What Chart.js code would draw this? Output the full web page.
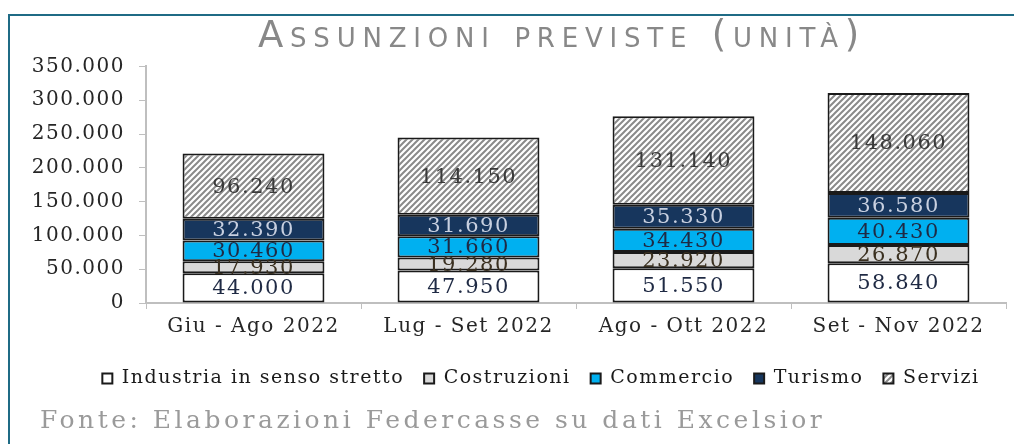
<!DOCTYPE html>
<html>
<head>
<meta charset="utf-8">
<script src="https://cdn.jsdelivr.net/npm/chart.js@4"></script>
<style>
  body { margin: 0; background: #fff; }
  #wrap { position: relative; width: 1014px; height: 444px; }
  #frame { position: absolute; left: 8px; top: 14px; width: 1006px; height: 430px;
           border-top: 2px solid #1f6b85; border-left: 2px solid #1f6b85; box-sizing: border-box; }
  canvas { position: absolute; left: 0; top: 0; }
</style>
</head>
<body>
<div id="wrap">
  <div id="frame"></div>
  <canvas id="assunzioni" width="1014" height="444"></canvas>
</div>
<script>
// valori (unità)
var categories = ['Giu - Ago 2022', 'Lug - Set 2022', 'Ago - Ott 2022', 'Set - Nov 2022'];
var industria = [44000, 47950, 51550, 58840];
var costruzioni = [17930, 19280, 23920, 26870];
var commercio = [30460, 31660, 34430, 40430];
var turismo = [32390, 31690, 35330, 36580];
var servizi = [96240, 114150, 131140, 148060];
var yMax = 350000;
var yStep = 50000;

var TITLE = 'Assunzioni previste (unità)';
var SOURCE = 'Fonte: Elaborazioni Federcasse su dati Excelsior';

function fmt(v) {
  return String(v).replace(/\B(?=(\d{3})+(?!\d))/g, '.');
}

// tratteggio per i Servizi
function hatch() {
  var c = document.createElement('canvas');
  c.width = 6; c.height = 6;
  var x = c.getContext('2d');
  x.fillStyle = '#ffffff';
  x.fillRect(0, 0, 6, 6);
  x.strokeStyle = '#8a8a8a';
  x.lineWidth = 2;
  x.beginPath();
  x.moveTo(0, 6); x.lineTo(6, 0);
  x.moveTo(-1, 1); x.lineTo(1, -1);
  x.moveTo(5, 7); x.lineTo(7, 5);
  x.stroke();
  return x.createPattern(c, 'repeat');
}

// the excel fonts are wide, so space the letters out a bit
var spacing = {
  id: 'spacing',
  beforeUpdate: function(chart) { chart.ctx.letterSpacing = '1.5px'; },
  beforeDraw: function(chart) { chart.ctx.letterSpacing = '1.5px'; }
};

function styleBox(box, ls, dx) {
  if (!box || box._styled) return;
  var draw = box.draw;
  box.draw = function(area) {
    var c = this.ctx;
    c.save();
    c.letterSpacing = ls;
    c.translate(dx, 0);
    draw.call(this, area);
    c.restore();
  };
  box._styled = true;
}

// no left padding (so the y labels are not clipped), shift the boxes instead
var boxStyle = {
  id: 'boxStyle',
  afterLayout: function(chart) {
    chart.boxes.forEach(function(box) {
      if (!box.options) return;
      if (box.options.text === TITLE) styleBox(box, '6.8px', 59);
      if (box.options.text === SOURCE) styleBox(box, '3.5px', 40);
    });
    styleBox(chart.legend, '1.5px', 38);
  }
};

var labelColors = ['#1f2a44', '#3a3020', '#1f2a44', '#c8d0e0', '#3a3a3a'];

var valueLabels = {
  id: 'valueLabels',
  afterDatasetsDraw: function(chart) {
    var ctx = chart.ctx;
    ctx.save();
    ctx.letterSpacing = '1.5px';
    ctx.font = '21px "DejaVu Serif"';
    ctx.textAlign = 'center';
    ctx.textBaseline = 'middle';
    chart.data.datasets.forEach(function(ds, i) {
      var meta = chart.getDatasetMeta(i);
      meta.data.forEach(function(bar, j) {
        ctx.fillStyle = labelColors[i];
        ctx.fillText(fmt(ds.data[j]), bar.x, (bar.y + bar.base) / 2 + 1);
      });
    });
    ctx.restore();
  }
};

var ctx = document.getElementById('assunzioni');
var chart = new Chart(ctx, {
  type: 'bar',
  data: {
    labels: categories,
    datasets: [
      { label: 'Industria in senso stretto', data: industria, backgroundColor: '#ffffff' },
      { label: 'Costruzioni', data: costruzioni, backgroundColor: '#d9d9d9' },
      { label: 'Commercio', data: commercio, backgroundColor: '#00b0f0' },
      { label: 'Turismo', data: turismo, backgroundColor: '#17365d' },
      { label: 'Servizi', data: servizi, backgroundColor: hatch() }
    ]
  },
  plugins: [spacing, boxStyle, valueLabels],
  options: {
    responsive: false,
    animation: false,
    datasets: {
      bar: {
        borderColor: '#1a1a1a',
        borderWidth: 2,
        borderSkipped: false,
        barPercentage: 0.66,
        categoryPercentage: 1.0
      }
    },
    layout: { padding: { left: 0, right: 8, top: 0, bottom: 0 } },
    plugins: {
      title: {
        display: true,
        text: TITLE,
        color: '#888888',
        font: { family: '"DejaVu Sans"', size: 37, weight: 'small-caps' },
        padding: { top: 15, bottom: 7 }
      },
      subtitle: {
        display: true,
        position: 'bottom',
        align: 'start',
        text: SOURCE,
        color: '#9a9a9a',
        font: { family: '"DejaVu Serif"', size: 25 },
        padding: { top: 8, bottom: 8 }
      },
      legend: {
        position: 'bottom',
        labels: {
          color: '#1a1a1a',
          font: { family: '"DejaVu Serif"', size: 19 },
          boxWidth: 10,
          boxHeight: 10,
          padding: 20
        }
      },
      tooltip: { enabled: false }
    },
    scales: {
      x: {
        stacked: true,
        border: { color: '#bfbfbf', width: 2 },
        grid: { drawOnChartArea: false, color: '#bfbfbf', tickLength: 6, offset: true },
        ticks: { color: '#262626', font: { family: '"DejaVu Serif"', size: 20 }, padding: 6 },
        afterFit: function(scale) { scale.height += 4; }
      },
      y: {
        stacked: true,
        min: 0,
        max: yMax,
        border: { color: '#bfbfbf', width: 2 },
        grid: { drawOnChartArea: false, color: '#bfbfbf', tickLength: 7 },
        ticks: {
          stepSize: yStep,
          color: '#262626',
          font: { family: '"DejaVu Serif"', size: 20 },
          padding: 14,
          callback: function(v) { return fmt(v); }
        },
        afterFit: function(scale) { scale.width = 146; }
      }
    }
  }
});
</script>
</body>
</html>
